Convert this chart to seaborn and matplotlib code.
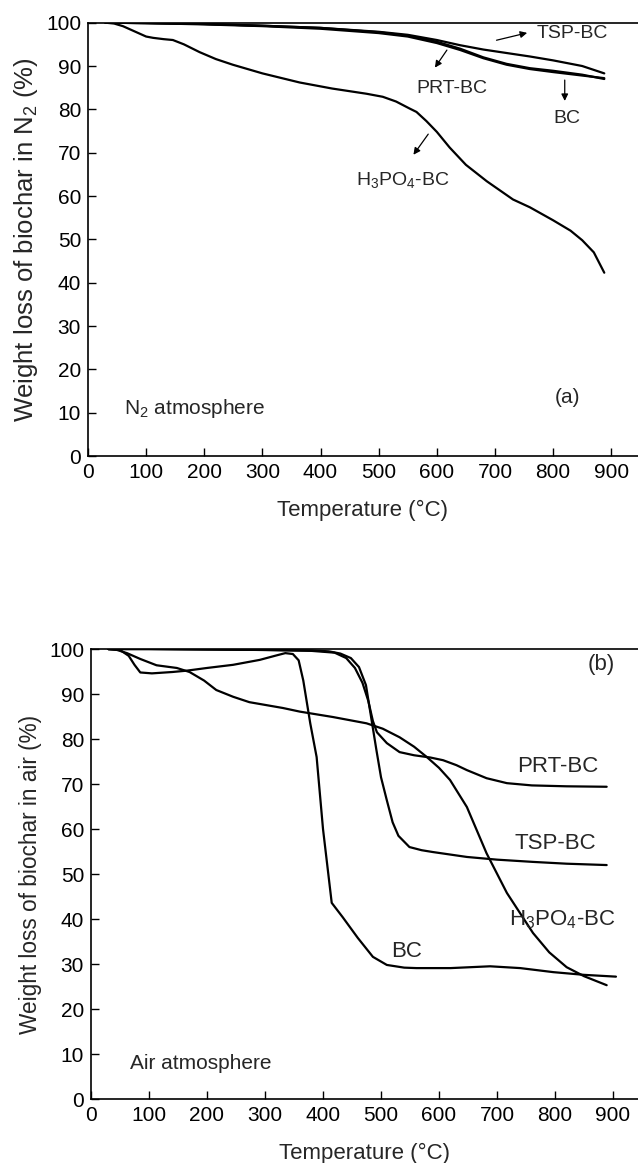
import matplotlib
matplotlib.use("Agg")
import matplotlib.pyplot as plt
import seaborn as sns
import pandas as pd

# ---- panel (a): N2 atmosphere ----
t_n2_h3po4 = [30, 45, 60, 80, 100, 112, 130, 146, 165, 192, 220, 249, 300, 364, 420, 479,
              507, 530, 553, 565, 582, 600, 622, 650, 686, 731, 760, 800, 830, 850, 870, 888]
w_n2_h3po4 = [100, 99.8, 99.2, 98, 96.8, 96.5, 96.2, 96, 95, 93.2, 91.6, 90.3, 88.3, 86.2, 84.8, 83.6,
              82.9, 81.8, 80.2, 79.4, 77.3, 74.8, 71.2, 67.2, 63.4, 59.2, 57.4, 54.4, 52, 49.8, 47, 42.3]
t_n2_bc = [30, 100, 200, 300, 400, 500, 550, 600, 640, 680, 720, 760, 800, 850, 888]
w_n2_bc = [100, 99.9, 99.7, 99.3, 98.8, 97.8, 97.0, 95.6, 94.0, 92.0, 90.5, 89.5, 88.9, 88.0, 87.0]
t_n2_prt = [30, 100, 200, 300, 400, 500, 550, 600, 640, 680, 720, 760, 800, 850, 888]
w_n2_prt = [100, 99.9, 99.6, 99.2, 98.6, 97.6, 96.8, 95.3, 93.7, 91.8, 90.3, 89.3, 88.6, 87.8, 87.2]
t_n2_tsp = [30, 100, 200, 300, 400, 500, 550, 600, 640, 680, 720, 760, 800, 850, 888]
w_n2_tsp = [100, 99.9, 99.7, 99.3, 98.8, 97.9, 97.2, 96.0, 94.8, 93.8, 93.0, 92.2, 91.3, 90.0, 88.3]

# ---- panel (b): air atmosphere ----
t_air_bc = [30, 50, 65, 75, 85, 105, 140, 165, 200, 245, 291, 320, 335, 348, 358, 366, 378, 389,
            400, 415, 434, 460, 486, 510, 540, 561, 620, 688, 740, 797, 850, 905]
w_air_bc = [100, 99.8, 98.5, 96.5, 94.8, 94.6, 94.9, 95.2, 95.8, 96.5, 97.6, 98.6, 99.1, 98.9, 97.5, 93,
            83.5, 76, 60, 43.6, 40.4, 35.8, 31.6, 29.8, 29.2, 29.1, 29.1, 29.5, 29.1, 28.2, 27.6, 27.2]
t_air_h3po4 = [30, 45, 62, 85, 113, 148, 170, 195, 216, 245, 273, 331, 360, 417, 475, 503, 532,
               557, 579, 600, 619, 648, 682, 717, 762, 790, 820, 850, 889]
w_air_h3po4 = [100, 99.8, 99.1, 97.8, 96.4, 95.8, 94.9, 93, 90.9, 89.4, 88.2, 86.9, 86.1, 84.9, 83.5, 82.3, 80.4,
               78.3, 76, 73.6, 70.9, 64.9, 54.6, 45.8, 36.9, 32.6, 29.3, 27.3, 25.3]
t_air_prt = [30, 100, 200, 300, 380, 420, 440, 455, 468, 478, 486, 493, 510, 532, 557, 585, 607,
             630, 648, 682, 717, 760, 820, 889]
w_air_prt = [100, 100, 99.9, 99.8, 99.6, 99.2, 98.0, 95.8, 92.5, 88.5, 84.0, 81.5, 79.1, 77.1, 76.4, 75.9, 75.3,
             74.2, 73.1, 71.3, 70.2, 69.7, 69.5, 69.4]
t_air_tsp = [30, 100, 200, 300, 380, 410, 430, 448, 462, 474, 484, 492, 500, 510, 520, 530, 549,
             570, 589, 648, 700, 762, 820, 889]
w_air_tsp = [100, 100, 99.9, 99.8, 99.7, 99.5, 99.0, 98.0, 96.0, 92.0, 84.0, 77.6, 71.5, 66.4, 61.5, 58.5, 56.0,
             55.3, 54.9, 53.8, 53.2, 52.7, 52.3, 52.0]

x_ticks = [0, 100, 200, 300, 400, 500, 600, 700, 800, 900]
y_ticks = [0, 10, 20, 30, 40, 50, 60, 70, 80, 90, 100]


def long_frame(series):
    frames = []
    for name, (t, w) in series.items():
        frames.append(pd.DataFrame({"T": t, "W": w, "sample": name}))
    return pd.concat(frames, ignore_index=True)


sns.set_style("ticks")
plt.rcParams["font.family"] = ["Liberation Sans", "DejaVu Sans"]
plt.rcParams["mathtext.fontset"] = "custom"
plt.rcParams["mathtext.rm"] = "Liberation Sans"
plt.rcParams["mathtext.it"] = "Liberation Sans:italic"

fig = plt.figure(figsize=(6.38, 11.63), dpi=100)
ax_a = fig.add_axes([0.1379, 0.6079, 0.8621, 0.3726])
ax_b = fig.add_axes([0.1426, 0.0550, 0.8574, 0.3869])

df_a = long_frame({"BC": (t_n2_bc, w_n2_bc), "PRT-BC": (t_n2_prt, w_n2_prt),
                   "TSP-BC": (t_n2_tsp, w_n2_tsp), "H3PO4-BC": (t_n2_h3po4, w_n2_h3po4)})
df_b = long_frame({"BC": (t_air_bc, w_air_bc), "PRT-BC": (t_air_prt, w_air_prt),
                   "TSP-BC": (t_air_tsp, w_air_tsp), "H3PO4-BC": (t_air_h3po4, w_air_h3po4)})
black = {k: "black" for k in ["BC", "PRT-BC", "TSP-BC", "H3PO4-BC"]}

sns.lineplot(data=df_a, x="T", y="W", hue="sample", palette=black, estimator=None,
             sort=False, legend=False, linewidth=1.6, ax=ax_a)
sns.lineplot(data=df_b, x="T", y="W", hue="sample", palette=black, estimator=None,
             sort=False, legend=False, linewidth=1.6, ax=ax_b)

for ax, xmax in [(ax_a, 946), (ax_b, 943)]:
    ax.set_xlim(0, xmax)
    ax.set_ylim(0, 100)
    ax.set_xticks(x_ticks)
    ax.set_yticks(y_ticks)
    ax.tick_params(direction="in", length=6, width=1.0, labelsize=15, pad=5, colors="black")
    ax.spines["right"].set_visible(False)
    for s in ["top", "left", "bottom"]:
        ax.spines[s].set_linewidth(1.2)
        ax.spines[s].set_color("black")
    ax.set_xlabel("Temperature (°C)", fontsize=16, labelpad=13)

ax_a.set_ylabel("Weight loss of biochar in N$_2$ (%)", fontsize=18.5, labelpad=4)
ax_b.set_ylabel("Weight loss of biochar in air (%)", fontsize=16.3, labelpad=5)

# annotations for panel (a)
arrow = dict(arrowstyle="-|>", color="black", lw=0.9, mutation_scale=10)
ax_a.annotate("", xy=(760, 97.8), xytext=(698, 95.8), arrowprops=arrow)
ax_a.text(772, 97.6, "TSP-BC", fontsize=14, va="center", ha="left")
ax_a.annotate("", xy=(594, 89.1), xytext=(620, 94.2), arrowprops=arrow)
ax_a.text(626, 84.9, "PRT-BC", fontsize=14, va="center", ha="center")
ax_a.annotate("", xy=(820, 81.3), xytext=(820, 87.4), arrowprops=arrow)
ax_a.text(823, 78.0, "BC", fontsize=14, va="center", ha="center")
ax_a.annotate("", xy=(557, 69.0), xytext=(588, 74.8), arrowprops=arrow)
ax_a.text(542, 63.7, "H$_3$PO$_4$-BC", fontsize=14, va="center", ha="center")
ax_a.text(62, 11, "N$_2$ atmosphere", fontsize=15, va="center", ha="left")
ax_a.text(824, 13.4, "(a)", fontsize=15, va="center", ha="center")

# annotations for panel (b)
ax_b.text(880, 96.5, "(b)", fontsize=16, va="center", ha="center")
ax_b.text(805, 74.0, "PRT-BC", fontsize=16, va="center", ha="center")
ax_b.text(800, 56.9, "TSP-BC", fontsize=16, va="center", ha="center")
ax_b.text(813, 39.8, "H$_3$PO$_4$-BC", fontsize=16, va="center", ha="center")
ax_b.text(544, 32.7, "BC", fontsize=16, va="center", ha="center")
ax_b.text(67, 7.8, "Air atmosphere", fontsize=15, va="center", ha="left")

fig.savefig("out.png", dpi=100)
